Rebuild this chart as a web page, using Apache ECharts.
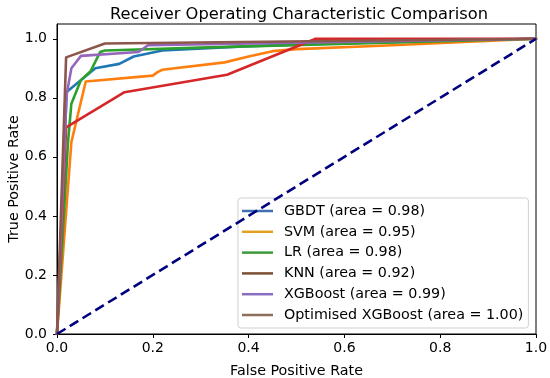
<!DOCTYPE html>
<html>
<head>
<meta charset="utf-8">
<script src="https://cdn.jsdelivr.net/npm/echarts@6/dist/echarts.min.js"></script>
<style>html,body{margin:0;padding:0;background:#fff}#c{width:550px;height:378px}</style>
</head>
<body>
<div id="c"></div>
<script>
var seriesNames = ['GBDT (area = 0.98)', 'SVM (area = 0.95)', 'LR (area = 0.98)', 'KNN (area = 0.92)', 'XGBoost (area = 0.99)', 'Optimised XGBoost (area = 1.00)'];
var gbdtFpr = [0, 0.02, 0.08, 0.13, 0.16, 0.22, 0.40, 0.60, 1.0];
var gbdtTpr = [0, 0.82, 0.90, 0.915, 0.94, 0.96, 0.975, 0.985, 1.0];
var svmFpr = [0, 0.03, 0.06, 0.20, 0.21, 0.22, 0.35, 0.40, 0.45, 0.50, 0.70, 1.0];
var svmTpr = [0, 0.65, 0.855, 0.875, 0.887, 0.895, 0.92, 0.94, 0.958, 0.965, 0.978, 1.0];
var lrFpr = [0, 0.023, 0.03, 0.05, 0.07, 0.09, 0.10, 0.30, 0.53, 1.0];
var lrTpr = [0, 0.65, 0.78, 0.86, 0.89, 0.955, 0.96, 0.97, 0.98, 1.0];
var knnFpr = [0, 0.019, 0.141, 0.355, 0.54, 1.0];
var knnTpr = [0, 0.70, 0.819, 0.878, 1.0, 1.0];
var xgbFpr = [0, 0.02, 0.03, 0.05, 0.17, 0.19, 1.0];
var xgbTpr = [0, 0.81, 0.90, 0.942, 0.955, 0.978, 1.0];
var optFpr = [0, 0.019, 0.10, 1.0];
var optTpr = [0, 0.937, 0.984, 1.0];
var chanceX = [0, 1];
var chanceY = [0, 1];
var xTicks = [0, 0.2, 0.4, 0.6, 0.8, 1.0];
var yTicks = [0, 0.2, 0.4, 0.6, 0.8, 1.0];

var colors = ['#1f77b4', '#ff7f0e', '#2ca02c', '#d62728', '#9467bd', '#8c564b'];
var legendColors = ['#3f6fb0', '#e0a020', '#3c9a3c', '#7d4f35', '#8a6cc0', '#8c6e5a'];
var curves = [[gbdtFpr, gbdtTpr], [svmFpr, svmTpr], [lrFpr, lrTpr], [knnFpr, knnTpr], [xgbFpr, xgbTpr], [optFpr, optTpr]];
function pairs(xs, ys) { return xs.map(function (x, i) { return [x, ys[i]]; }); }

var series = curves.map(function (c, i) {
  return {
    name: seriesNames[i], type: 'line', data: pairs(c[0], c[1]), showSymbol: false,
    lineStyle: { color: colors[i], width: 2.6, join: 'round', cap: 'round' },
    itemStyle: { color: colors[i] }, z: 2 + i, animation: false
  };
});
series.push({
  name: 'chance', type: 'line', data: pairs(chanceX, chanceY), showSymbol: false,
  lineStyle: { color: '#000080', width: 2.6, type: [10, 5] }, z: 10, animation: false
});

var font = 'DejaVu Sans';
var chart = echarts.init(document.getElementById('c'), null, { renderer: 'canvas' });
chart.setOption({
  animation: false,
  title: {
    text: 'Receiver Operating Characteristic Comparison', left: 294, top: 2, textAlign: 'center',
    textStyle: { fontFamily: font, fontSize: 16.3, fontWeight: 'normal', color: '#000' }
  },
  grid: { left: 57, right: 14, top: 24, bottom: 44, show: true, borderColor: '#000', borderWidth: 1, backgroundColor: 'transparent', containLabel: false, outerBoundsMode: 'none' },
  legend: {
    orient: 'vertical', left: 238, top: 198,
    data: seriesNames.map(function (n, i) { return { name: n, itemStyle: { color: legendColors[i] } }; }),
    icon: 'rect', itemWidth: 31, itemHeight: 2.5, itemGap: 4.8,
    padding: [5, 5, 5, 4],
    backgroundColor: 'rgba(255,255,255,0.85)', borderColor: '#d0d0d0', borderWidth: 1, borderRadius: 3,
    textStyle: { fontFamily: font, fontSize: 14.3, color: '#000', lineHeight: 16, padding: [0, 0, 0, 6] }
  },
  xAxis: {
    type: 'value', min: 0, max: 1, interval: 0.2,
    name: 'False Positive Rate', nameLocation: 'middle', nameGap: 30,
    nameTextStyle: { fontFamily: font, fontSize: 14.3, color: '#000' },
    axisLine: { show: true, lineStyle: { color: '#000', width: 1 } },
    axisTick: { show: true, length: 4, lineStyle: { color: '#000' } },
    axisLabel: { fontFamily: font, fontSize: 14, color: '#000', margin: 7, formatter: function (v) { return v.toFixed(1); } },
    splitLine: { show: false }
  },
  yAxis: {
    type: 'value', min: 0, max: 1.05,
    name: 'True Positive Rate', nameLocation: 'middle', nameGap: 36, nameRotate: 90, nameMoveOverlap: false,
    nameTextStyle: { fontFamily: font, fontSize: 14.3, color: '#000' },
    axisLine: { show: true, lineStyle: { color: '#000', width: 1 } },
    axisTick: { show: true, length: 4, lineStyle: { color: '#000' }, customValues: yTicks },
    axisLabel: { fontFamily: font, fontSize: 14, color: '#000', margin: 10, customValues: yTicks, formatter: function (v) { return v.toFixed(1); } },
    splitLine: { show: false }
  },
  series: series
});
</script>
</body>
</html>
